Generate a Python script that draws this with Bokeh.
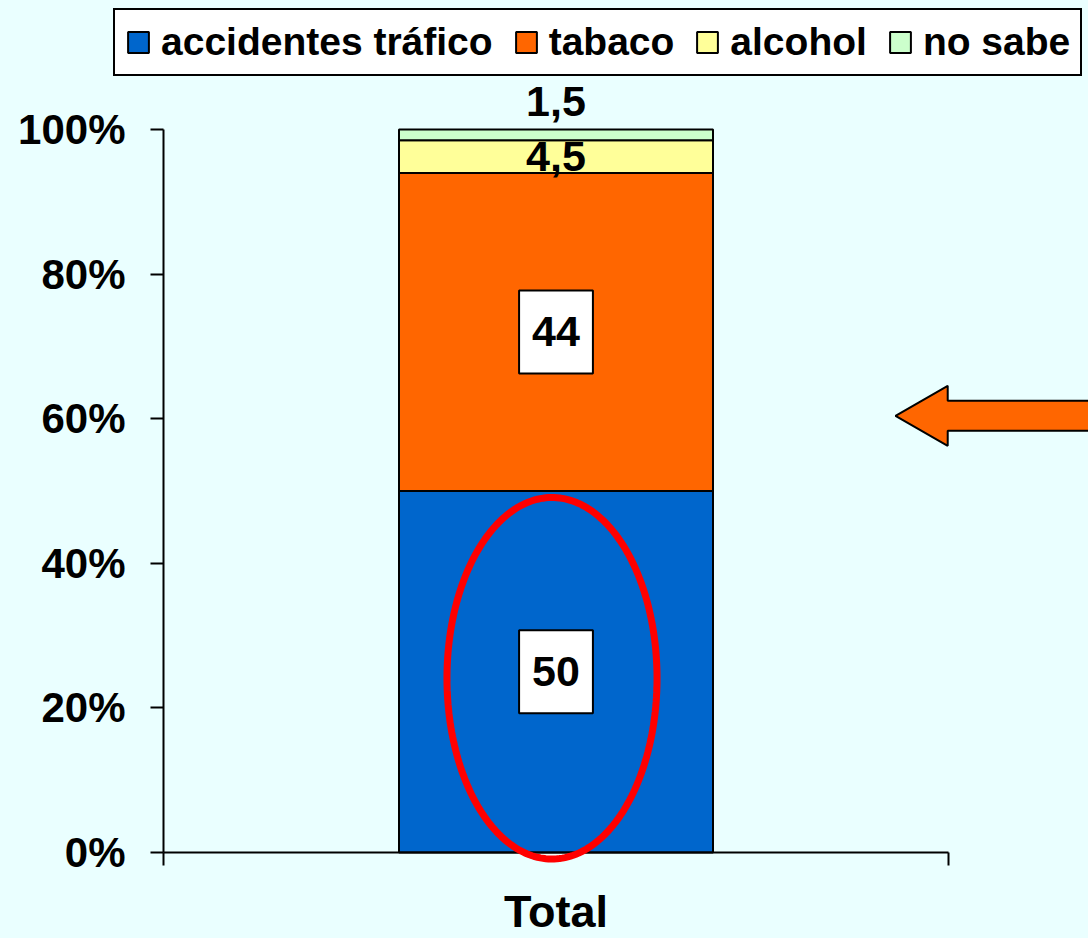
import numpy as np
from bokeh.plotting import figure
from bokeh.models import (Range1d, FixedTicker, PrintfTickFormatter, Legend, LegendItem,
                          Label, PolyAnnotation, ColumnDataSource)
from bokeh.embed import file_html
from bokeh.resources import INLINE

# ---------------- data ----------------
categories = ["Total"]
series_names = ["accidentes tráfico", "tabaco", "alcohol", "no sabe"]
accidentes_trafico = [50]
tabaco = [44]
alcohol = [4.5]
no_sabe = [1.5]
series_colors = ["#0066CC", "#FF6600", "#FFFF99", "#CCFFCC"]
y_ticks = [0, 20, 40, 60, 80, 100]

# ---------------- style / layout ----------------
BG = "#EAFFFF"
FONT = "Liberation Sans"
W, H = 1088, 938
AX_X, AX_Y0, AX_Y100 = 163, 852, 129      # pixel position of the axes
PX_PER_CAT = 785.0
PX_PER_PCT = (AX_Y0 - AX_Y100) / 100.0

x_range = Range1d(-AX_X / PX_PER_CAT, (W - AX_X) / PX_PER_CAT)
y_range = Range1d(-(H - AX_Y0) / PX_PER_PCT, AX_Y0 / PX_PER_PCT)

p = figure(width=W, height=H, x_range=x_range, y_range=y_range,
           output_backend="svg", toolbar_location=None,
           min_border_left=0, min_border_right=0, min_border_top=0, min_border_bottom=0,
           background_fill_color=BG, border_fill_color=BG, outline_line_color=None)
p.xgrid.visible = False
p.ygrid.visible = False

xs = [i + 0.5 for i in range(len(categories))]
keys = ["s0", "s1", "s2", "s3"]
series = [accidentes_trafico, tabaco, alcohol, no_sabe]
source = ColumnDataSource(dict(x=xs, **{k: v for k, v in zip(keys, series)}))
renderers = p.vbar_stack(keys, x="x", width=0.4, fill_color=series_colors,
                         line_color="black", line_width=2, source=source)

# ---------------- axes ----------------
xa = p.xaxis[0]
xa.fixed_location = 0
xa.bounds = (0, len(categories))
xa.ticker = FixedTicker(ticks=xs, minor_ticks=list(range(len(categories) + 1)))
xa.major_label_overrides = {x: c for x, c in zip(xs, categories)}
xa.major_tick_line_color = None
xa.major_tick_out = 0
xa.major_tick_in = 0
xa.minor_tick_out = 13
xa.minor_tick_in = 0
xa.minor_tick_line_color = "black"
xa.minor_tick_line_width = 2
xa.axis_line_width = 2
xa.axis_line_color = "black"
xa.major_label_text_font = FONT
xa.major_label_text_font_size = "45px"
xa.major_label_text_font_style = "bold"
xa.major_label_text_color = "black"
xa.major_label_standoff = 20

ya = p.yaxis[0]
ya.fixed_location = 0
ya.bounds = (0, 100)
ya.ticker = FixedTicker(ticks=y_ticks, minor_ticks=[])
ya.formatter = PrintfTickFormatter(format="%d%%")
ya.major_tick_out = 13
ya.major_tick_in = 0
ya.major_tick_line_width = 2
ya.major_tick_line_color = "black"
ya.axis_line_width = 2
ya.axis_line_color = "black"
ya.major_label_text_font = FONT
ya.major_label_text_font_size = "42px"
ya.major_label_text_font_style = "bold"
ya.major_label_text_color = "black"
ya.major_label_standoff = 25

# ---------------- value labels ----------------
def fmt(v):
    return f"{v:g}".replace(".", ",")

for ci, cx in enumerate(xs):
    base = 0.0
    for si, s in enumerate(series):
        v = s[ci]
        mid = base + v / 2.0
        common = dict(text=fmt(v), text_align="center", text_baseline="middle",
                      text_font=FONT, text_font_size="43px", text_font_style="bold",
                      text_color="black")
        if v >= 10:
            lab = Label(x=cx, y=mid, background_fill_color="white",
                        border_line_color="black", border_line_width=2,
                        padding=dict(left=13, right=13, top=27, bottom=27), **common)
        elif si == len(series) - 1:
            lab = Label(x=cx, y=base + v, y_offset=28, **common)
        else:
            lab = Label(x=cx, y=mid, **common)
        p.add_layout(lab)
        base += v

# ---------------- highlight ellipse ----------------
ell_cx, ell_cy, ell_a, ell_b = 0.4949, 24.1, 0.1338, 25.0
t = np.linspace(0, 2 * np.pi, 240)
p.add_layout(PolyAnnotation(xs=list(ell_cx + ell_a * np.cos(t)), ys=list(ell_cy + ell_b * np.sin(t)),
                            fill_alpha=0, line_color="#FF0000", line_alpha=1.0, line_width=7))

# ---------------- block arrow ----------------
tip_x, head_x, end_x = 0.9325, 0.999, 1.25
ay, head_half, shaft_half = 60.4, 4.15, 2.07
arrow_x = [tip_x, head_x, head_x, end_x, end_x, head_x, head_x]
arrow_y = [ay, ay + head_half, ay + shaft_half, ay + shaft_half, ay - shaft_half, ay - shaft_half, ay - head_half]
p.patch(arrow_x, arrow_y, fill_color="#FF6600", line_color="black", line_width=2)

# ---------------- legend ----------------
legend = Legend(items=[LegendItem(label=n, renderers=[r]) for n, r in zip(series_names, renderers)],
                orientation="horizontal", location=(113, H - 76), margin=0, padding=10,
                spacing=20, label_standoff=10, glyph_width=26, glyph_height=26,
                label_text_font=FONT, label_text_font_size="39px", label_text_font_style="bold",
                label_text_color="black", border_line_color="black", border_line_alpha=1.0,
                border_line_width=2, background_fill_color="white", background_fill_alpha=1.0)
p.add_layout(legend)

html = file_html(p, INLINE, title="chart")
html = html.replace("<head>", "<head><style>html,body{background:#EAFFFF;}</style>", 1)
open("out.html", "w").write(html)
